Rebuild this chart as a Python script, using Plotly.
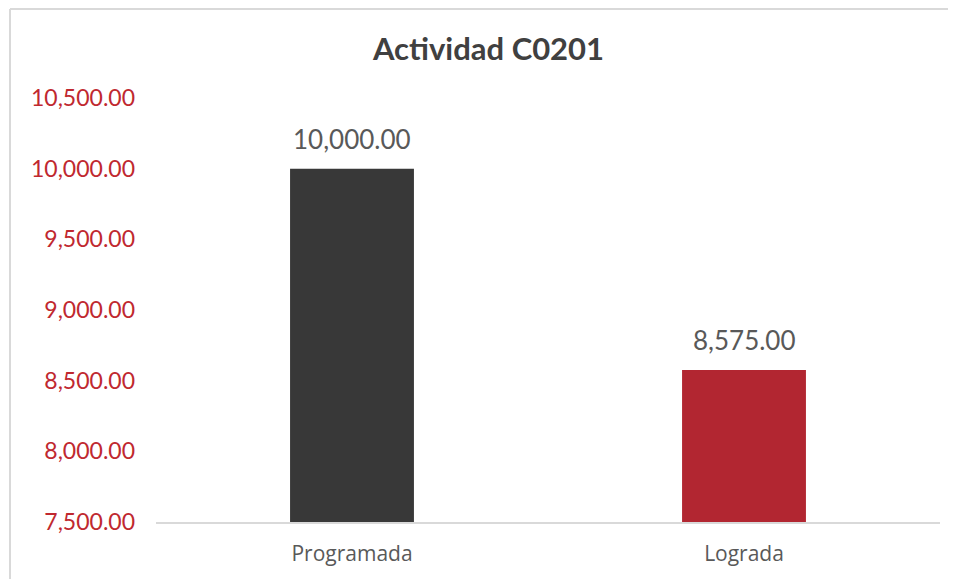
import plotly.graph_objects as go

categories = ["Programada", "Lograda"]
values = [10000.00, 8575.00]
bar_colors = ["#383838", "#B22631"]
tick_vals = [7500, 8000, 8500, 9000, 9500, 10000, 10500]
tick_text = ["7,500.00", "8,000.00", "8,500.00", "9,000.00", "9,500.00", "10,000.00", "10,500.00"]
title_text = "Actividad C0201"

OFF = 8  # page body margin
W, H = 956 - OFF, 579 - OFF
L, R, T = 156 - OFF, 16, 98 - OFF
B = H - (522 - OFF)

fig = go.Figure()
fig.add_trace(go.Bar(
    x=categories, y=values, marker=dict(color=bar_colors, line=dict(width=0)),
    width=0.316, hoverinfo="skip", showlegend=False,
))

for c, v in zip(categories, values):
    fig.add_annotation(x=c, y=v, text=f"{v:,.2f}", showarrow=False,
                       yanchor="bottom", yshift=12,
                       font=dict(family="Lato", size=26, color="#595959"))

pw, ph = W - L - R, H - T - B
def px(xp):
    return (xp - OFF - L) / pw
def py(yp):
    return (H - B - (yp - OFF)) / ph

fig.add_shape(type="line", xref="paper", yref="paper", x0=px(10), x1=px(960), y0=py(9), y1=py(9),
              line=dict(color="#d9d9d9", width=2), layer="below")
fig.add_shape(type="line", xref="paper", yref="paper", x0=px(10), x1=px(10), y0=py(9), y1=py(590),
              line=dict(color="#d9d9d9", width=2), layer="below")

fig.update_layout(
    width=W, height=H,
    margin=dict(l=L, r=R, t=T, b=B, autoexpand=False),
    paper_bgcolor="#ffffff", plot_bgcolor="rgba(0,0,0,0)",
    title=dict(text=f"<b>{title_text}</b>", x=((373 + 604) / 2 - OFF) / W, xanchor="center",
               y=1 - (49 - OFF) / H, yanchor="middle", yref="container",
               font=dict(family="Lato", size=31, color="#404040")),
    xaxis=dict(showline=True, linecolor="#d9d9d9", linewidth=1.5, showgrid=False, ticks="",
               tickfont=dict(family="Open Sans", size=21, color="#595959"), ticklabelstandoff=12,
               range=[-0.5, 1.5]),
    yaxis=dict(range=[7500, 10500], tickvals=tick_vals, ticktext=tick_text, showgrid=False,
               zeroline=False, showline=False, ticks="",
               tickfont=dict(family="Lato", size=23, color="#C0282F"), ticklabelstandoff=20),
)

fig.write_html("out.html")
